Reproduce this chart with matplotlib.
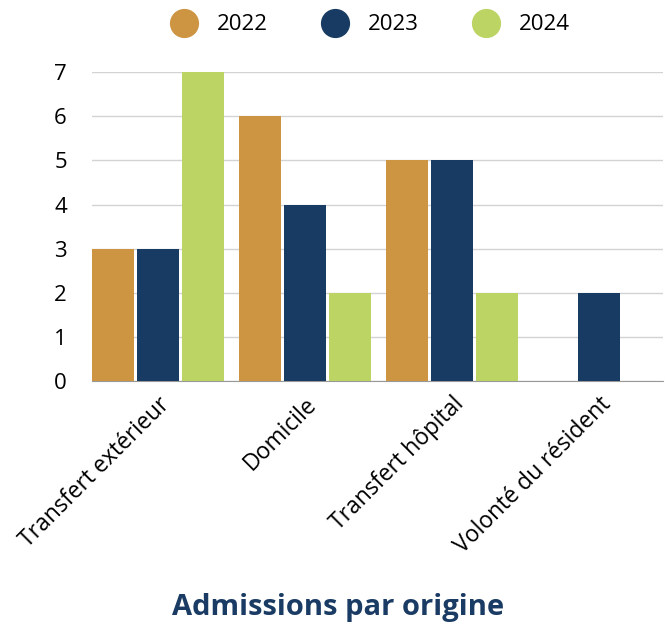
import matplotlib.pyplot as plt
import numpy as np
from matplotlib.lines import Line2D

# Data
categories = ["Transfert extérieur", "Domicile", "Transfert hôpital", "Volonté du résident"]
years = ["2022", "2023", "2024"]
values_2022 = [3, 6, 5, 0]
values_2023 = [3, 4, 5, 2]
values_2024 = [7, 2, 2, 0]
colors = ["#CD9442", "#173B62", "#BBD464"]

plt.rcParams["font.family"] = ["Open Sans", "DejaVu Sans"]

fig = plt.figure(figsize=(6.7, 6.26), dpi=100)
ax = fig.add_axes([0.137, 0.391, 0.853, 0.494])

x = np.arange(len(categories))
width = 0.286
offset = 0.306
series = [values_2022, values_2023, values_2024]
for i, (vals, col) in enumerate(zip(series, colors)):
    ax.bar(x + (i - 1) * offset, vals, width, color=col, zorder=3)

ax.set_xlim(-0.45, 3.44)
ax.set_ylim(0, 7)
ax.set_yticks(range(8))
ax.yaxis.grid(True, color="#d3d3d3", linewidth=1, zorder=0)
ax.tick_params(axis="y", length=0, labelsize=16, pad=18)
ax.tick_params(axis="x", length=0, labelsize=16.5, pad=8)
for s in ["top", "right", "left"]:
    ax.spines[s].set_visible(False)
ax.spines["bottom"].set_color("#999999")
ax.set_xticks(x)
ax.set_xticklabels(categories, rotation=45, ha="right", rotation_mode="anchor")

# Legend
handles = [Line2D([], [], marker="o", linestyle="none", markersize=20,
                  markerfacecolor=c, markeredgecolor=c) for c in colors]
fig.legend(handles, years, loc="upper center", bbox_to_anchor=(0.546, 1.009),
           ncol=3, frameon=False, fontsize=16, handletextpad=0.5,
           columnspacing=2.0)

fig.text(0.505, 0.03, "Admissions par origine", ha="center", va="center",
         fontsize=21, fontweight="bold", color="#1A3B63")

fig.savefig("out.png", dpi=100)
